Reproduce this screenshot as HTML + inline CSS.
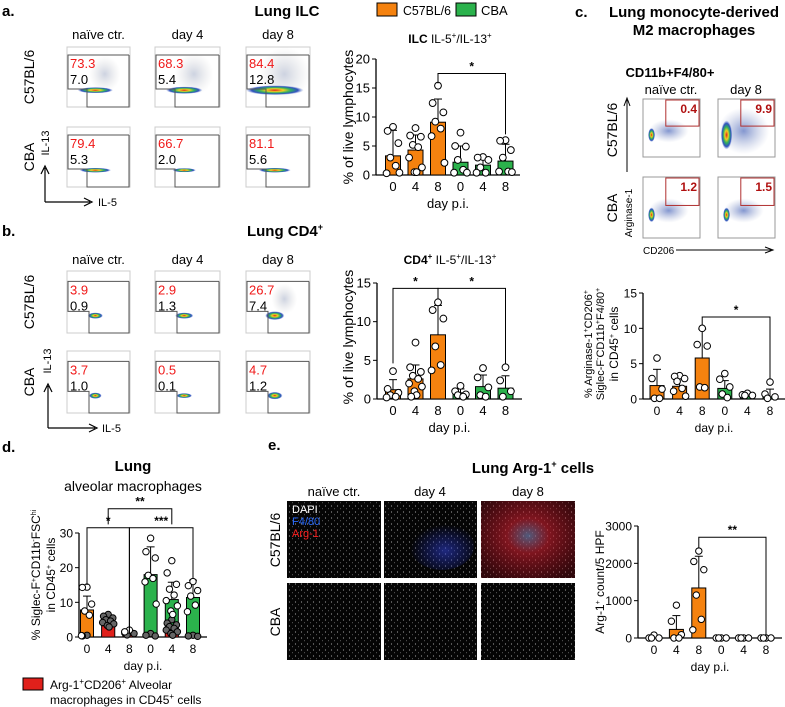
<!DOCTYPE html>
<html><head><meta charset="utf-8">
<style>
html,body{margin:0;padding:0;background:#fff;}
svg{display:block;font-family:"Liberation Sans",Arial,sans-serif;}
</style></head>
<body>
<svg id="fig" width="785" height="707" viewBox="0 0 785 707" xmlns="http://www.w3.org/2000/svg">
<defs>
<radialGradient id="dens" cx="50%" cy="50%" r="50%">
<stop offset="0" stop-color="#e02020"/><stop offset="0.3" stop-color="#f0d020"/><stop offset="0.55" stop-color="#30b060"/><stop offset="0.8" stop-color="#3050c0"/><stop offset="1" stop-color="#6080d0" stop-opacity="0"/>
</radialGradient>
<radialGradient id="cloud" cx="50%" cy="50%" r="50%">
<stop offset="0" stop-color="#3050b0" stop-opacity="0.6"/><stop offset="1" stop-color="#8090c0" stop-opacity="0"/>
</radialGradient>
<radialGradient id="greycloud" cx="50%" cy="50%" r="50%">
<stop offset="0" stop-color="#7080a8" stop-opacity="0.35"/><stop offset="1" stop-color="#aaa" stop-opacity="0"/>
</radialGradient>
<pattern id="cells" width="6" height="6" patternUnits="userSpaceOnUse">
<rect width="6" height="6" fill="#050505"/><circle cx="1.5" cy="2" r="0.6" fill="#999"/><circle cx="4.5" cy="4.8" r="0.5" fill="#777"/>
</pattern>
<radialGradient id="blueglow" cx="55%" cy="60%" r="55%"><stop offset="0" stop-color="#3040d0" stop-opacity="0.6"/><stop offset="1" stop-color="#2030c0" stop-opacity="0"/></radialGradient>
<radialGradient id="redglow" cx="50%" cy="45%" r="65%"><stop offset="0" stop-color="#7080b0" stop-opacity="0.7"/><stop offset="0.35" stop-color="#d02030" stop-opacity="0.6"/><stop offset="1" stop-color="#b01020" stop-opacity="0.25"/></radialGradient>
</defs>
<g id="static"></g>
<g id="charts"></g>
</svg>
<script>
// ===== Chart data (top level) =====
var dayCats = ["0","4","8","0","4","8"];
var strainSeries = ["C57BL/6","C57BL/6","C57BL/6","CBA","CBA","CBA"];

var ilcMeans = [3.3, 4.3, 9.1, 2.2, 1.7, 2.4];
var ilcSD = [4.4, 2.6, 4.0, 2.8, 1.2, 2.9];
var ilcPoints = [[8.3,7.6,5.5,3.0,1.6,0.3,0.4],[8.1,6.8,6.6,5.2,4.8,3.0,1.3,0.5,0.5],[15.4,12.4,10.8,9.2,8.0,6.7,2.1],[7.3,5.0,4.9,2.6,0.9,0.4,0.4],[3.1,3.0,2.6,1.3,0.4,0.4],[6.0,5.9,4.3,3.0,0.6,0.6,0.5]];
var ilcTicks = [0,5,10,15,20];

var cd4Means = [1.2, 2.6, 8.3, 0.8, 1.6, 1.4];
var cd4SD = [1.3, 1.8, 3.8, 0.5, 1.5, 1.6];
var cd4Points = [[3.6,1.3,0.8,0.5,0.3,0.2],[7.3,4.1,3.5,3.0,2.6,2.0,1.6,1.0,0.5,0.3],[12.5,11.5,10.4,6.8,4.4,3.7],[1.7,1.0,0.6,0.5,0.3],[4.0,2.8,1.5,0.5,0.3],[4.1,2.4,1.0,0.3]];
var cd4Ticks = [0,5,10,15];

var m2Means = [1.9, 1.8, 5.8, 1.5, 0.6, 0.3];
var m2SD = [2.3, 1.5, 4.1, 1.1, 0.2, 1.1];
var m2Points = [[5.8,2.9,1.4,0.1,0.1],[3.3,3.2,2.9,2.5,1.5,1.1,0.4],[10,7.7,7.5,1.7,1.6],[3.6,2.8,1.7,0.7,0.2],[0.8,0.6,0.5,0.5],[2.4,0.7,0.3,0.1]];
var m2Ticks = [0,5,10,15];

var amMeans = [7.8, 4.3, 1.5, 18.0, 10.8, 11.4];
var amSD = [4.0, 1.0, 0.5, 8.0, 5.0, 5.0];
var amRed = [0, 3.2, 0.5, 0, 2.0, 0];
var amWhitePoints = [[14.4,14.3,9.5,7.5,6.3,0.4],[],[2.0,1.5],[28.5,24.6,22.8,17.8,16.9,15.9,9.5],[22,18.5,15.2,13.8,12.1,10.5,9,7.5,6.5],[16,14.8,13.4,11.8,9.2,7.3]];
var amGreyPoints = [[0.5,0.3],[6.5,6,5.5,5,4.6,4.2,3.8,3.3,2.9],[1.5,1.2,1.0,0.6],[1.0,0.5,0.3],[5,4,3.5,3,2.5,2,1.5,1,0.5],[0.5,0.3,0.2]];
var amTicks = [0,10,20,30];

var argMeans = [10, 230, 1340, 0, 0, 0];
var argSD = [30, 370, 850, 0, 0, 0];
var argPoints = [[80,0,0,0],[880,450,90,0,0],[2330,2050,1830,1150,500,220],[0,0,0,0],[0,0,0,0],[0,0,0,0]];
var argTicks = [0,1000,2000,3000];

var NS="http://www.w3.org/2000/svg";
var root=document.getElementById('charts');
var stat=document.getElementById('static');
function mk(tag,attrs,parent){var e=document.createElementNS(NS,tag);for(var k in attrs)e.setAttribute(k,attrs[k]);(parent||root).appendChild(e);return e;}
function txt(x,y,s,size,parent,extra){var a={x:x,y:y,'font-size':size,fill:'#000'};if(extra)for(var k in extra)a[k]=extra[k];var t=mk('text',a,parent);t.innerHTML=s;return t;}
var ORANGE='#f5820f',GREEN='#2bb24c',RED='#e0201b';
var jit=[0,-5,5,-2.5,2.5,-6,6,-1,1,-4];

function barChart(cfg){
  var g=mk('g',{},root);
  
  
  var top=cfg.ticks[cfg.ticks.length-1];
  function ys(v){return cfg.y0-(v/top)*(cfg.y0-cfg.yTop);}
  function xs(i){return cfg.x0+i*cfg.step;}
  mk('line',{x1:cfg.axisX,y1:ys(top),x2:cfg.axisX,y2:cfg.y0,stroke:'#000','stroke-width':1.3},g);
  mk('line',{x1:cfg.axisX,y1:cfg.y0,x2:cfg.xEnd,y2:cfg.y0,stroke:'#000','stroke-width':1.3},g);
  cfg.ticks.forEach(function(t){
    mk('line',{x1:cfg.axisX-4,y1:ys(t),x2:cfg.axisX,y2:ys(t),stroke:'#000','stroke-width':1},g);
    var tl=txt(cfg.axisX-6,ys(t)+4.5,String(t),cfg.fs,g,{'text-anchor':'end'});
    
    
  });
  dayCats.forEach(function(c,i){
    var xl=txt(xs(i),cfg.y0+16,c,cfg.fs,g,{'text-anchor':'middle'});
    
    
  });
  var xt=txt((cfg.axisX+cfg.xEnd)/2,cfg.y0+33,'day p.i.',cfg.fs,g,{'text-anchor':'middle'});
  
  
  cfg.means.forEach(function(m,i){
    var col=strainSeries[i]==='CBA'?GREEN:ORANGE;
    var b=mk('rect',{x:xs(i)-cfg.bw/2,y:ys(m),width:cfg.bw,height:cfg.y0-ys(m),fill:col,stroke:'#000','stroke-width':1},g);
    
    
    if(cfg.red&&cfg.red[i]>0){
      var r=mk('rect',{x:xs(i)-cfg.bw/2,y:ys(cfg.red[i]),width:cfg.bw,height:cfg.y0-ys(cfg.red[i]),fill:RED,stroke:'#000','stroke-width':0.8},g);
      
      
    }
    var e=cfg.sd[i];
    if(e>0){
      mk('line',{x1:xs(i),y1:ys(m),x2:xs(i),y2:ys(m+e),stroke:'#000','stroke-width':1},g);
      mk('line',{x1:xs(i)-4,y1:ys(m+e),x2:xs(i)+4,y2:ys(m+e),stroke:'#000','stroke-width':1},g);
    }
  });
  function dots(arr,fill){
    arr.forEach(function(pts,i){pts.forEach(function(v,j){
      var c=mk('circle',{cx:xs(i)+jit[j%jit.length]*cfg.bw/14,cy:ys(v),r:cfg.r,fill:fill,stroke:'#000','stroke-width':1},g);
      
      
    });});
  }
  if(cfg.grey)dots(cfg.grey,'#666');
  dots(cfg.points,'#fff');
  (cfg.brackets||[]).forEach(function(br){
    var a=xs(br[0]),b=xs(br[1]),y=ys(br[2]);
    mk('polyline',{points:a+','+ys(br[3])+' '+a+','+y+' '+b+','+y+' '+b+','+ys(br[4]),fill:'none',stroke:'#000','stroke-width':1},g);
    var s=txt((a+b)/2,y-3,br[5],12,g,{'text-anchor':'middle','font-weight':'bold'});
    
    
  });
  return g;
}

barChart({name:'ilc-chart',means:ilcMeans,sd:ilcSD,points:ilcPoints,ticks:ilcTicks,axisX:376,xEnd:520,y0:175,yTop:59,x0:393,step:22.5,bw:15,r:3.4,fs:13,
  brackets:[[2,5,17.5,15.8,7.0,'*']]});
barChart({name:'cd4-chart',means:cd4Means,sd:cd4SD,points:cd4Points,ticks:cd4Ticks,axisX:377,xEnd:522,y0:399,yTop:283,x0:393,step:22.5,bw:15,r:3.4,fs:13,
  brackets:[[0,2,14.3,4.6,13.0,'*'],[2,5,14.3,13.0,4.5,'*']]});
barChart({name:'m2-chart',means:m2Means,sd:m2SD,points:m2Points,ticks:m2Ticks,axisX:643,xEnd:785,y0:399,yTop:293,x0:657,step:22.6,bw:14,r:3.3,fs:12,
  brackets:[[2,5,11.6,10.4,2.8,'*']]});
barChart({name:'alveolar-chart',means:amMeans,sd:amSD,red:amRed,points:amWhitePoints,grey:amGreyPoints,ticks:amTicks,axisX:79,xEnd:207,y0:637,yTop:533,x0:87,step:21.2,bw:13,r:3.2,fs:12,
  brackets:[[0,2,31.5,15,1,'*'],[1,4,37,32.5,32.5,'**'],[2,5,31.5,1,17,'***']]});
barChart({name:'arg1-chart',means:argMeans,sd:argSD,points:argPoints,ticks:argTicks,axisX:638,xEnd:782,y0:638,yTop:526,x0:654,step:22.4,bw:14,r:3.2,fs:12,
  brackets:[[2,5,2700,2400,60,'**']]});

// ===== Static text / decorations =====
function T(x,y,s,size,name,extra){var t=txt(x,y,s,size,stat,extra);return t;}
function rot(x,y,s,size,name,extra){var e=extra||{};e.transform='rotate(-90 '+x+' '+y+')';e['text-anchor']='middle';return T(x,y,s,size,name,e);}
var B={'font-weight':'bold'};
T(2,16,'a.',15,'panel-label-a',B);T(2,236,'b.',15,'panel-label-b',B);T(575,17,'c.',15,'panel-label-c',B);
T(2,452,'d.',15,'panel-label-d',B);T(268,450,'e.',15,'panel-label-e',B);
T(287,16,'Lung ILC',15,'title-lung-ilc',{'font-weight':'bold','text-anchor':'middle'});
T(285,236,'Lung CD4<tspan font-size="9" dy="-6">+</tspan>',15,'title-lung-cd4',{'font-weight':'bold','text-anchor':'middle'});
T(694,17,'Lung monocyte-derived',15,'title-m2-line1',{'font-weight':'bold','text-anchor':'middle'});
T(694,35,'M2 macrophages',15,'title-m2-line2',{'font-weight':'bold','text-anchor':'middle'});
T(133,471,'Lung',15,'title-lung-am',{'font-weight':'bold','text-anchor':'middle'});
T(133,491,'alveolar macrophages',14,'title-am-line2',{'text-anchor':'middle'});
T(533,473,'Lung Arg-1<tspan font-size="9" dy="-6">+</tspan><tspan dy="6"> cells</tspan>',15,'title-lung-arg1',{'font-weight':'bold','text-anchor':'middle'});
var lg=mk('g',{},stat);
mk('rect',{x:377,y:3,width:20,height:13,fill:ORANGE,stroke:'#000','stroke-width':1},lg);
txt(403,15,'C57BL/6',13,lg,{textLength:48,lengthAdjust:'spacingAndGlyphs'});
mk('rect',{x:456,y:3,width:20,height:13,fill:GREEN,stroke:'#000','stroke-width':1},lg);
txt(481,15,'CBA',13,lg);
T(450,43,'<tspan font-weight="bold">ILC</tspan> IL-5<tspan font-size="8" dy="-5">+</tspan><tspan dy="5">/IL-13</tspan><tspan font-size="8" dy="-5">+</tspan>',12,'chart-title-ilc',{'text-anchor':'middle'});
T(450,264,'<tspan font-weight="bold">CD4<tspan font-size="8" dy="-5">+</tspan></tspan><tspan dy="5"> IL-5</tspan><tspan font-size="8" dy="-5">+</tspan><tspan dy="5">/IL-13</tspan><tspan font-size="8" dy="-5">+</tspan>',12,'chart-title-cd4',{'text-anchor':'middle'});
rot(353,117,'% of live lymphocytes',14,'y-axis-title-ilc');
rot(353,337,'% of live lymphocytes',14,'y-axis-title-cd4');
rot(592,344,'% Arginase-1<tspan font-size="7" dy="-4">+</tspan><tspan dy="4">CD206</tspan><tspan font-size="7" dy="-4">+</tspan>',11,'y-axis-title-m2-1');
rot(604,344,'Siglec-F<tspan font-size="7" dy="-4">-</tspan><tspan dy="4">CD11b</tspan><tspan font-size="7" dy="-4">+</tspan><tspan dy="4">F4/80</tspan><tspan font-size="7" dy="-4">+</tspan>',11,'y-axis-title-m2-2');
rot(618,344,'in CD45<tspan font-size="7" dy="-4">+</tspan><tspan dy="4"> cells</tspan>',12,'y-axis-title-m2-3');
rot(40,575,'% Siglec-F<tspan font-size="7" dy="-4">+</tspan><tspan dy="4">CD11b</tspan><tspan font-size="7" dy="-4">-</tspan><tspan dy="4">FSC</tspan><tspan font-size="7" dy="-4">hi</tspan>',12,'y-axis-title-am-1');
rot(55,575,'in  CD45<tspan font-size="7" dy="-4">+</tspan><tspan dy="4"> cells</tspan>',12,'y-axis-title-am-2');
rot(604,582,'Arg-1<tspan font-size="7" dy="-4">+</tspan><tspan dy="4"> count/5 HPF</tspan>',12,'y-axis-title-arg1');
var lr=mk('rect',{x:23,y:678,width:20,height:12,fill:RED,stroke:'#000','stroke-width':1},stat);

T(50,689,'Arg-1<tspan font-size="8" dy="-5">+</tspan><tspan dy="5">CD206</tspan><tspan font-size="8" dy="-5">+</tspan><tspan dy="5"> Alveolar</tspan>',12,'legend-arg1-line1');
T(50,704,'macrophages in CD45<tspan font-size="8" dy="-5">+</tspan><tspan dy="5"> cells</tspan>',12,'legend-arg1-line2');

// ===== flow plots a & b =====
var cols=[[67,130],[155,220],[246,310]];
var colNames=['naïve ctr.','day 4','day 8'];
function flowBlock(rows,labY,vals,gateY,gateH,vx,clouds,nm){
  colNames.forEach(function(c,i){T((cols[i][0]+cols[i][1])/2,labY,c,13,'column-label',{'text-anchor':'middle'});});
  rows.forEach(function(r,ri){
    cols.forEach(function(c,ci){
      var g=mk('g',{},stat);
      var w=c[1]-c[0],h=r[1]-r[0];
      mk('rect',{x:c[0],y:r[0],width:w,height:h,fill:'#fff',stroke:'#ccc','stroke-width':1},g);
      var cl=clouds[ri][ci];
      if(cl[2]>0)mk('ellipse',{cx:c[0]+w*0.6,cy:r[0]+h*0.45,rx:w*cl[2],ry:h*cl[3],fill:'url(#greycloud)'},g);
      mk('ellipse',{cx:c[0]+w*0.45,cy:r[0]+h*0.72,rx:w*cl[0],ry:h*cl[1],fill:'url(#dens)'},g);
      var gy=r[0]+gateY*h/60;
      mk('polyline',{points:(c[1]-1)+','+gy+' '+(c[0]+1)+','+gy+' '+(c[0]+1)+','+(gy+gateH)+' '+(c[0]+vx)+','+(gy+gateH)+' '+(c[0]+vx)+','+r[1]+' '+(c[1]-1)+','+r[1]+' '+(c[1]-1)+','+gy,fill:'none',stroke:'#555','stroke-width':1},g);
      var v=vals[ri][ci];
      txt(c[0]+3,gy+13,v[0],13,g,{fill:'#f01818'});
      txt(c[0]+3,gy+29,v[1],13,g);
    });
  });
}
flowBlock([[47,107],[127,187]],39,[[['73.3','7.0'],['68.3','5.4'],['84.4','12.8']],[['79.4','5.3'],['66.7','2.0'],['81.1','5.6']]],8,34,20,
  [[[0.28,0.05,0.25,0.3],[0.28,0.06,0.3,0.35],[0.45,0.08,0.4,0.45]],[[0.25,0.04,0,0],[0.18,0.035,0,0],[0.25,0.04,0,0]]],'ilc');
flowBlock([[271,333],[351,413]],264,[[['3.9','0.9'],['2.9','1.3'],['26.7','7.4']],[['3.7','1.0'],['0.5','0.1'],['4.7','1.2']]],10,30,22,
  [[[0.12,0.05,0,0],[0.14,0.05,0,0],[0.15,0.07,0.2,0.25]],[[0.1,0.05,0,0],[0.12,0.04,0,0],[0.12,0.06,0,0]]],'cd4');
rot(34,77,'C57BL/6',14,'row-label-c57');rot(34,157,'CBA',14,'row-label-cba');
rot(34,302,'C57BL/6',14,'row-label-c57');rot(34,382,'CBA',14,'row-label-cba');
rot(49,143,'IL-13',11,'y-axis-label-il13');rot(51,361,'IL-13',11,'y-axis-label-il13');
mk('path',{d:'M45 202 L45 168 M41 174 L45 166 L49 174 M45 202 L90 202 M84 198 L92 202 L84 206',fill:'none',stroke:'#000','stroke-width':1.2},stat);
T(98,206,'IL-5',11,'x-axis-label-il5');
mk('path',{d:'M48 428 L48 386 M44 392 L48 384 L52 392 M48 428 L95 428 M89 424 L97 428 L89 432',fill:'none',stroke:'#000','stroke-width':1.2},stat);
T(102,432,'IL-5',11,'x-axis-label-il5');

// ===== panel c flow plots =====
T(670,77,'CD11b+F4/80+',13,'subtitle-cd11b',{'font-weight':'bold','text-anchor':'middle'});
T(671,94,'naïve ctr.',13,'column-label',{'text-anchor':'middle'});T(746,94,'day 8',13,'column-label',{'text-anchor':'middle'});
var cc=[[643,700],[718,775]],cr=[[99,157],[177,238]],cv=[['0.4','9.9'],['1.2','1.5']];
cr.forEach(function(r,ri){cc.forEach(function(c,ci){
  var g=mk('g',{},stat);
  var w=c[1]-c[0],h=r[1]-r[0];
  mk('rect',{x:c[0],y:r[0],width:w,height:h,fill:'#fff',stroke:'#999','stroke-width':1},g);
  var big=(ri==0&&ci==1);
  mk('ellipse',{cx:c[0]+w*0.45,cy:r[0]+h*0.55,rx:w*(big?0.45:0.35),ry:h*(big?0.4:0.2),fill:'url(#cloud)'},g);
  mk('ellipse',{cx:c[0]+w*0.15,cy:r[0]+h*0.62,rx:w*(big?0.1:0.06),ry:h*(big?0.25:0.12),fill:'url(#dens)'},g);
  mk('rect',{x:c[0]+w*0.4,y:r[0]+1,width:w*0.6-1,height:h*0.45,fill:'none',stroke:'#b03030','stroke-width':1},g);
  txt(c[1]-3,r[0]+14,cv[ri][ci],12,g,{'text-anchor':'end','font-weight':'bold',fill:'#b01010'});
});});
rot(617,130,'C57BL/6',14,'row-label-c57');rot(617,208,'CBA',14,'row-label-cba');
rot(632,213,'Arginase-1',10,'y-axis-label-arg1');T(643,254,'CD206',10,'x-axis-label-cd206');
mk('path',{d:'M627 172 L627 100 M624 106 L627 98 L630 106 M676 250 L771 250 M765 247 L773 250 L765 253',fill:'none',stroke:'#000','stroke-width':1},stat);

// ===== panel e micrographs =====
T(334,496,'naïve ctr.',13,'column-label',{'text-anchor':'middle'});T(430,496,'day 4',13,'column-label',{'text-anchor':'middle'});T(528,496,'day 8',13,'column-label',{'text-anchor':'middle'});
var ec=[[287,381],[384,477],[481,575]],er=[[501,578],[583,660]];
er.forEach(function(r,ri){ec.forEach(function(c,ci){
  var g=mk('g',{},stat);
  mk('rect',{x:c[0],y:r[0],width:c[1]-c[0],height:r[1]-r[0],fill:'url(#cells)'},g);
  if(ri==0&&ci==1)mk('ellipse',{cx:c[0]+58,cy:r[0]+45,rx:32,ry:24,fill:'url(#blueglow)'},g);
  if(ri==0&&ci==2)mk('rect',{x:c[0],y:r[0],width:c[1]-c[0],height:r[1]-r[0],fill:'url(#redglow)'},g);
});});
T(292,513,'DAPI',11,'legend-dapi',{fill:'#fff'});T(292,525,'F4/80',11,'legend-f480',{fill:'#2a6cff'});T(292,537,'Arg-1',11,'legend-arg1',{fill:'#ff2020'});
rot(280,540,'C57BL/6',14,'row-label-c57');rot(280,622,'CBA',14,'row-label-cba');
</script>
</body></html>
